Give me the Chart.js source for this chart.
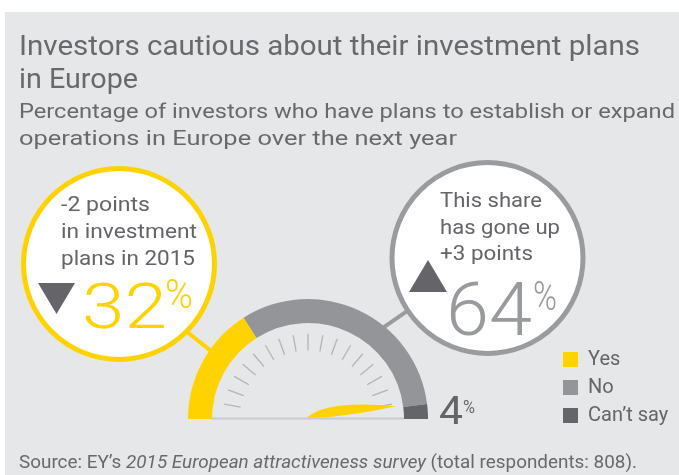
<!DOCTYPE html>
<html><head><meta charset="utf-8">
<script src="https://cdn.jsdelivr.net/npm/chart.js@4"></script>
<style>
html,body{margin:0;padding:0;background:#fff;width:679px;height:475px;overflow:hidden;}
#panel{position:absolute;left:5px;top:12px;width:674px;height:463px;background:#e6e7e8;}
#c{position:absolute;left:0;top:0;}
#ov{position:absolute;left:0;top:0;pointer-events:none;}
#ov text{font-family:Roboto,"Noto Sans",sans-serif;}
</style></head><body>
<div id="panel"></div>
<canvas id="c" width="679" height="475" style="width:679px;height:475px"></canvas>
<svg id="ov" width="679" height="475" xmlns="http://www.w3.org/2000/svg"></svg>
<script>
// ---- data ----
const categories = ['Yes', 'No', 'Can\u2019t say'];
const shares = [32, 64, 4];
const pointChanges = [-2, 3];
const surveyYear = 2015;
const respondents = 808;
const seriesColors = ['#FFD200', '#939598', '#646469'];

const TXT = '#646469';
const TITLE = '#68696d';

// ---- decorations plugin ----
const callouts = [
  {cx: 119, cy: 264, r: 95.5, color: '#FFD200', gaugeDeg: 215, circDeg: 45, tri: 'down', tx: [38, 75, 283, 314]},
  {cx: 487.5, cy: 258, r: 95.5, color: '#9a9b9e', gaugeDeg: 309.3, circDeg: 146.6, tri: 'up', tx: [409, 447, 260, 292]}
];

const gaugeDecor = {
  id: 'gaugeDecor',
  afterLayout(chart) {
    const lg = chart.legend;
    if (!lg) return;
    const w = lg.width, h = lg.height;
    lg.left = 555; lg.top = 341.5; lg.right = lg.left + w; lg.bottom = lg.top + h;
  },
  beforeDatasetsDraw(chart) {
    const ctx = chart.ctx;
    const arc = chart.getDatasetMeta(0).data[0];
    const p = arc.getProps(['x', 'y', 'outerRadius'], true);
    ctx.save();
    callouts.forEach(c => {
      const ga = c.gaugeDeg * Math.PI / 180, ca = c.circDeg * Math.PI / 180;
      ctx.strokeStyle = c.color; ctx.lineWidth = 4;
      ctx.beginPath();
      ctx.moveTo(p.x + (p.outerRadius - 3) * Math.cos(ga), p.y + (p.outerRadius - 3) * Math.sin(ga));
      ctx.lineTo(c.cx + c.r * Math.cos(ca), c.cy + c.r * Math.sin(ca));
      ctx.stroke();
    });
    callouts.forEach(c => {
      ctx.beginPath();
      ctx.arc(c.cx, c.cy, c.r, 0, Math.PI * 2);
      ctx.fillStyle = '#ffffff'; ctx.fill();
      ctx.lineWidth = 5; ctx.strokeStyle = c.color; ctx.stroke();
      const [x0, x1, y0, y1] = c.tx;
      ctx.fillStyle = '#646469';
      ctx.beginPath();
      if (c.tri === 'down') { ctx.moveTo(x0, y0); ctx.lineTo(x1, y0); ctx.lineTo((x0 + x1) / 2, y1); }
      else { ctx.moveTo(x0, y1); ctx.lineTo(x1, y1); ctx.lineTo((x0 + x1) / 2, y0); }
      ctx.closePath(); ctx.fill();
    });
    ctx.restore();
  },
  afterDatasetsDraw(chart) {
    const ctx = chart.ctx;
    const arc = chart.getDatasetMeta(0).data[0];
    const p = arc.getProps(['x', 'y', 'outerRadius', 'innerRadius'], true);
    const cx = p.x, cy = p.y, R = p.outerRadius, r = p.innerRadius;
    ctx.save();
    // ticks
    ctx.strokeStyle = '#b3b4b7'; ctx.lineWidth = 1.3;
    for (let k = 1; k <= 17; k++) {
      const a = Math.PI + k * Math.PI / 18;
      ctx.beginPath();
      ctx.moveTo(cx + 0.57 * R * Math.cos(a), cy + 0.57 * R * Math.sin(a));
      ctx.lineTo(cx + 0.71 * R * Math.cos(a), cy + 0.71 * R * Math.sin(a));
      ctx.stroke();
    }
    // baseline
    ctx.strokeStyle = '#c9cacc'; ctx.lineWidth = 2;
    ctx.beginPath(); ctx.moveTo(cx - r, cy - 0.5); ctx.lineTo(cx + r, cy - 0.5); ctx.stroke();
    // needle pointing at the Yes+No boundary
    const total = shares.reduce((s, v) => s + v, 0);
    const th = Math.PI + Math.PI * (shares[0] + shares[1]) / total;
    const L = 0.75 * R;
    const d = [Math.cos(th), Math.sin(th)], n = [Math.cos(th - Math.PI / 2), Math.sin(th - Math.PI / 2)];
    const P = (u, v) => [cx - 1 + u * d[0] + v * n[0], cy - 1.5 + u * d[1] + v * n[1]];
    ctx.fillStyle = '#FFD200';
    ctx.beginPath();
    let q = P(0, 0); ctx.moveTo(q[0], q[1]);
    let c1 = P(0.25 * L, 15), t = P(L, 0);
    ctx.quadraticCurveTo(c1[0], c1[1], t[0], t[1]);
    let c2 = P(0.3 * L, -5);
    ctx.quadraticCurveTo(c2[0], c2[1], q[0], q[1]);
    ctx.closePath(); ctx.fill();
    ctx.restore();
  }
};

new Chart(document.getElementById('c'), {
  type: 'doughnut',
  data: {
    labels: categories,
    datasets: [{ data: shares, backgroundColor: seriesColors, borderWidth: 0, hoverOffset: 0 }]
  },
  options: {
    responsive: false,
    animation: false,
    devicePixelRatio: window.devicePixelRatio || 1,
    rotation: -90,
    circumference: 180,
    cutout: '80%',
    layout: { padding: { left: 188, right: 251, top: 299, bottom: 56 } },
    events: [],
    plugins: {
      tooltip: { enabled: false },
      legend: {
        position: 'chartArea',
        align: 'start',
        labels: {
          boxWidth: 15, boxHeight: 15, padding: 8, color: TXT,
          font: { family: 'Roboto', size: 20 }
        }
      }
    }
  },
  plugins: [gaugeDecor]
});

// ---- text overlay ----
const NS = 'http://www.w3.org/2000/svg';
const ov = document.getElementById('ov');
function addText(str, x, y, size, fill, len, weight) {
  const t = document.createElementNS(NS, 'text');
  t.setAttribute('x', x); t.setAttribute('y', y);
  t.setAttribute('font-size', size); t.setAttribute('fill', fill);
  if (len) { t.setAttribute('textLength', len); t.setAttribute('lengthAdjust', 'spacingAndGlyphs'); }
  if (weight) t.setAttribute('font-weight', weight);
  t.textContent = str;
  ov.appendChild(t);
  return t;
}
addText('Investors cautious about their investment plans', 19, 55, 28, TITLE, 621);
addText('in Europe', 19, 88, 28, TITLE, 119);
addText('Percentage of investors who have plans to establish or expand', 19, 118, 21, TITLE, 656);
addText('operations in Europe over the next year', 19, 145, 21, TITLE, 438);

const src = document.createElementNS(NS, 'text');
src.setAttribute('x', 19); src.setAttribute('y', 468); src.setAttribute('font-size', 17.5);
src.setAttribute('fill', TITLE); src.setAttribute('textLength', 618); src.setAttribute('lengthAdjust', 'spacingAndGlyphs');
src.appendChild(document.createTextNode('Source: EY\u2019s '));
const it = document.createElementNS(NS, 'tspan'); it.setAttribute('font-style', 'italic');
it.textContent = surveyYear + ' European attractiveness survey';
src.appendChild(it);
src.appendChild(document.createTextNode(' (total respondents: ' + respondents + ').'));
ov.appendChild(src);

addText(pointChanges[0] + ' points', 61, 211, 21, TXT, 89);
addText('in investment', 61, 238, 21, TXT, 136);
addText('plans in ' + surveyYear, 61, 265, 21, TXT, 134);
addText(String(shares[0]), 82, 328, 63, '#FFD200', 85, 300);
addText('%', 165, 308, 40, '#FFD200', 28, 300);

addText('This share', 440, 207, 21, TXT, 102);
addText('has gone up', 440, 233.5, 21, TXT, 120);
addText('+' + pointChanges[1] + ' points', 440, 260, 21, TXT, 93);
addText(String(shares[1]), 446, 335, 75, '#999a9d', 86, 300);
addText('%', 533, 310, 40, '#999a9d', 24, 300);

addText(String(shares[2]), 439, 424, 39, TXT, 24);
addText('%', 463, 413, 18, TXT, 12);
</script>
</body></html>
